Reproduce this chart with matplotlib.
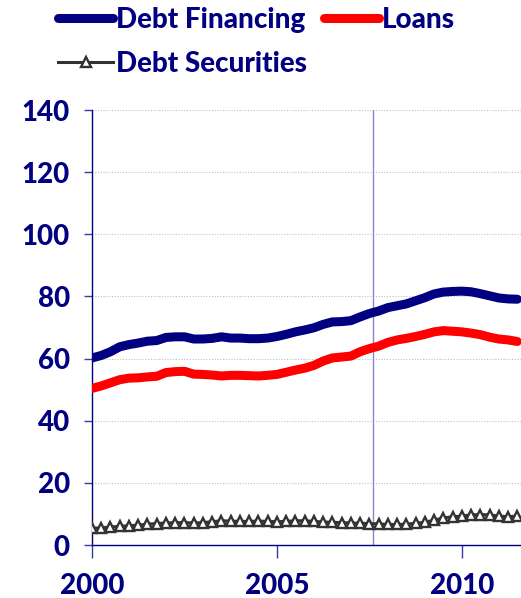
import numpy as np
import pandas as pd
import matplotlib.pyplot as plt

# quarterly observations, 2000Q1 .. 2011Q3
quarters = pd.period_range("2000Q1", "2011Q3", freq="Q")

debt_financing = [60.2, 61.0, 62.2, 63.8, 64.5, 65.0, 65.6, 65.8,
                  66.8, 67.0, 67.0, 66.3, 66.3, 66.5, 67.0, 66.6,
                  66.6, 66.4, 66.4, 66.6, 67.1, 67.8, 68.6, 69.2,
                  69.9, 71.0, 71.8, 71.9, 72.2, 73.4, 74.5, 75.3,
                  76.4, 77.0, 77.6, 78.6, 79.6, 80.8, 81.4, 81.6,
                  81.7, 81.5, 80.9, 80.2, 79.5, 79.2, 79.1]

loans = [50.4, 51.2, 52.2, 53.2, 53.7, 53.8, 54.1, 54.3,
         55.5, 55.8, 55.9, 55.0, 54.9, 54.7, 54.4, 54.6,
         54.6, 54.5, 54.4, 54.6, 54.9, 55.6, 56.3, 56.9,
         57.8, 59.2, 60.2, 60.5, 60.8, 62.2, 63.2, 64.0,
         65.2, 66.0, 66.5, 67.1, 67.8, 68.6, 69.0, 68.8,
         68.6, 68.2, 67.7, 66.9, 66.3, 66.0, 65.5]

debt_securities = [5.4, 5.5, 5.8, 6.0, 6.2, 6.4, 6.7, 6.9,
                   7.1, 7.2, 7.2, 7.1, 7.2, 7.5, 7.8, 7.7,
                   7.6, 7.6, 7.7, 7.6, 7.5, 7.6, 7.8, 7.8,
                   7.6, 7.4, 7.3, 7.2, 7.1, 7.0, 6.9, 6.8,
                   6.6, 6.6, 6.7, 7.0, 7.3, 8.0, 8.7, 9.1,
                   9.3, 9.7, 9.8, 9.7, 9.3, 9.1, 9.3]

crisis_marker = 2007.6
year_ticks = [2000, 2005, 2010]
value_ticks = [0, 20, 40, 60, 80, 100, 120, 140]

navy = "#000080"
tick_col = "#3a3aa0"

plt.rcParams['font.family'] = ['Lato', 'DejaVu Sans']

x = quarters.year + (quarters.quarter - 1) / 4.0

fig = plt.figure(figsize=(5.21, 5.98), dpi=100)
ax = fig.add_axes([92/521, 53/598, 429/521, 435/598])

ax.axvline(crisis_marker, color="#8888c8", lw=1.0, zorder=1)

h_df, = ax.plot(x, debt_financing, color=navy, lw=6.5,
                solid_capstyle="round", solid_joinstyle="round", label="Debt Financing", zorder=3)
h_ln, = ax.plot(x, loans, color="#ff0000", lw=6.5,
                solid_capstyle="round", solid_joinstyle="round", label="Loans", zorder=3)
h_ds, = ax.plot(x, debt_securities, color="#333333", lw=2.2, marker="^",
                markersize=7, markerfacecolor="white", markeredgecolor="#333333",
                markeredgewidth=1.7, label="Debt Securities", zorder=3)

ax.set_xlim(2000, 2011.6)
ax.set_ylim(0, 140)
ax.set_xticks(year_ticks)
ax.set_yticks(value_ticks)
ax.yaxis.grid(True, linestyle=(0, (1, 1.5)), color="#c0c0c0", lw=0.8)
ax.set_axisbelow(True)

for side in ["top", "right"]:
    ax.spines[side].set_visible(False)
for side in ["left", "bottom"]:
    ax.spines[side].set_color(navy)
    ax.spines[side].set_linewidth(1.0)

ax.tick_params(axis="y", direction="out", length=6, width=1, color=tick_col,
               labelsize=20, labelcolor=navy, pad=10)
ax.tick_params(axis="x", direction="out", length=9, width=1, color=tick_col,
               labelsize=20, labelcolor=navy, pad=11)
for lbl in ax.get_xticklabels() + ax.get_yticklabels():
    lbl.set_fontweight("black")

leg = fig.legend([h_df, h_ds, h_ln], ["Debt Financing", "Debt Securities", "Loans"],
                 ncol=2, loc="upper left", bbox_to_anchor=(55/521, 1 - 4/598),
                 frameon=False, fontsize=20, handlelength=2.0, handletextpad=0.1,
                 columnspacing=0.6, labelspacing=0.65, borderpad=0.1, borderaxespad=0)
for t in leg.get_texts():
    t.set_color(navy)
    t.set_fontweight("black")

fig.savefig("out.png", dpi=100)
